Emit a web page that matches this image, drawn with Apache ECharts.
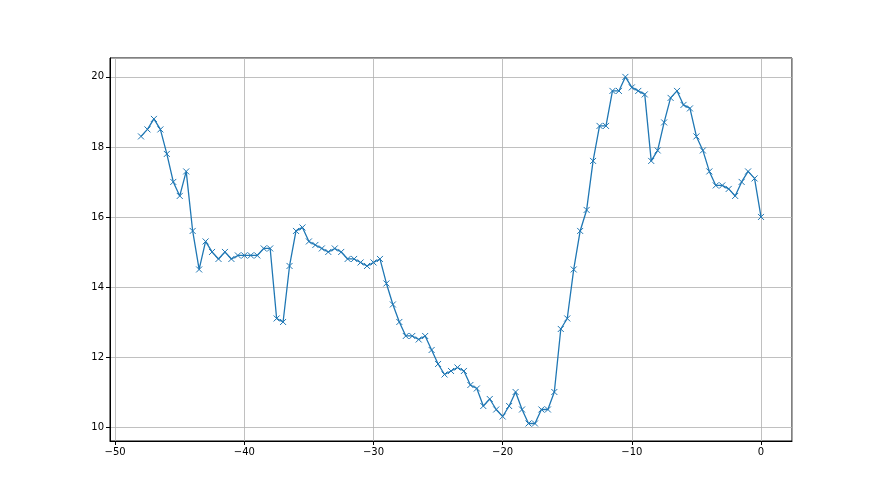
<!DOCTYPE html>
<html>
<head>
<meta charset="utf-8">
<script src="https://cdn.jsdelivr.net/npm/echarts@6/dist/echarts.min.js"></script>
<style>html,body{margin:0;padding:0;background:#fff}#c{width:880px;height:495px}</style>
</head>
<body>
<div id="c"></div>
<script>
const xValues = [];
for (let i = 0; i <= 96; i++) xValues.push(-48 + i * 0.5);
const yValues = [
  18.3, 18.5, 18.8, 18.5, 17.8, 17.0, 16.6, 17.3, 15.6, 14.5,
  15.3, 15.0, 14.8, 15.0, 14.8, 14.9, 14.9, 14.9, 14.9, 15.1,
  15.1, 13.1, 13.0, 14.6, 15.6, 15.7, 15.3, 15.2, 15.1, 15.0,
  15.1, 15.0, 14.8, 14.8, 14.7, 14.6, 14.7, 14.8, 14.1, 13.5,
  13.0, 12.6, 12.6, 12.5, 12.6, 12.2, 11.8, 11.5, 11.6, 11.7,
  11.6, 11.2, 11.1, 10.6, 10.8, 10.5, 10.3, 10.6, 11.0, 10.5,
  10.1, 10.1, 10.5, 10.5, 11.0, 12.8, 13.1, 14.5, 15.6, 16.2,
  17.6, 18.6, 18.6, 19.6, 19.6, 20.0, 19.7, 19.6, 19.5, 17.6,
  17.9, 18.7, 19.4, 19.6, 19.2, 19.1, 18.3, 17.9, 17.3, 16.9,
  16.9, 16.8, 16.6, 17.0, 17.3, 17.1, 16.0
];
const data = xValues.map((x, i) => [x, yValues[i]]);

const chart = echarts.init(document.getElementById('c'), null, {renderer: 'canvas'});
const axisCommon = {
  axisLine: {show: true, onZero: false, lineStyle: {color: '#000', width: 1}},
  axisTick: {show: true, inside: false, length: 4, lineStyle: {color: '#000', width: 1}},
  axisLabel: {color: '#000', fontSize: 10, fontFamily: 'DejaVu Sans'},
  splitLine: {show: true, lineStyle: {color: '#b0b0b0', width: 0.8}}
};
chart.setOption({
  animation: false,
  backgroundColor: '#fff',
  grid: {left: 110, right: 88, top: 58, bottom: 54, show: true, borderColor: '#000', borderWidth: 1, backgroundColor: 'transparent'},
  xAxis: Object.assign({}, axisCommon, {
    type: 'value', min: -50.4, max: 2.4, splitNumber: 5,
    axisLabel: Object.assign({}, axisCommon.axisLabel, {
      margin: 6, showMinLabel: false, showMaxLabel: false,
      formatter: v => (Math.abs(v % 10) < 1e-6 ? String(Math.round(v)).replace('-', '\u2212') : '')
    })
  }),
  yAxis: Object.assign({}, axisCommon, {
    type: 'value', min: 9.6, max: 20.54, splitNumber: 5,
    axisLabel: Object.assign({}, axisCommon.axisLabel, {
      margin: 6, showMinLabel: false, showMaxLabel: false,
      formatter: v => (Math.abs(v % 2) < 1e-6 ? String(Math.round(v)) : '')
    })
  }),
  series: [{
    type: 'line',
    data: data,
    showAllSymbol: true,
    symbol: 'path://M0,0L10,10M10,0L0,10',
    symbolSize: 6,
    lineStyle: {color: '#1f77b4', width: 1.3},
    itemStyle: {color: 'transparent', borderColor: '#1f77b4', borderWidth: 1},
    emphasis: {disabled: true}
  }]
});
</script>
</body>
</html>
